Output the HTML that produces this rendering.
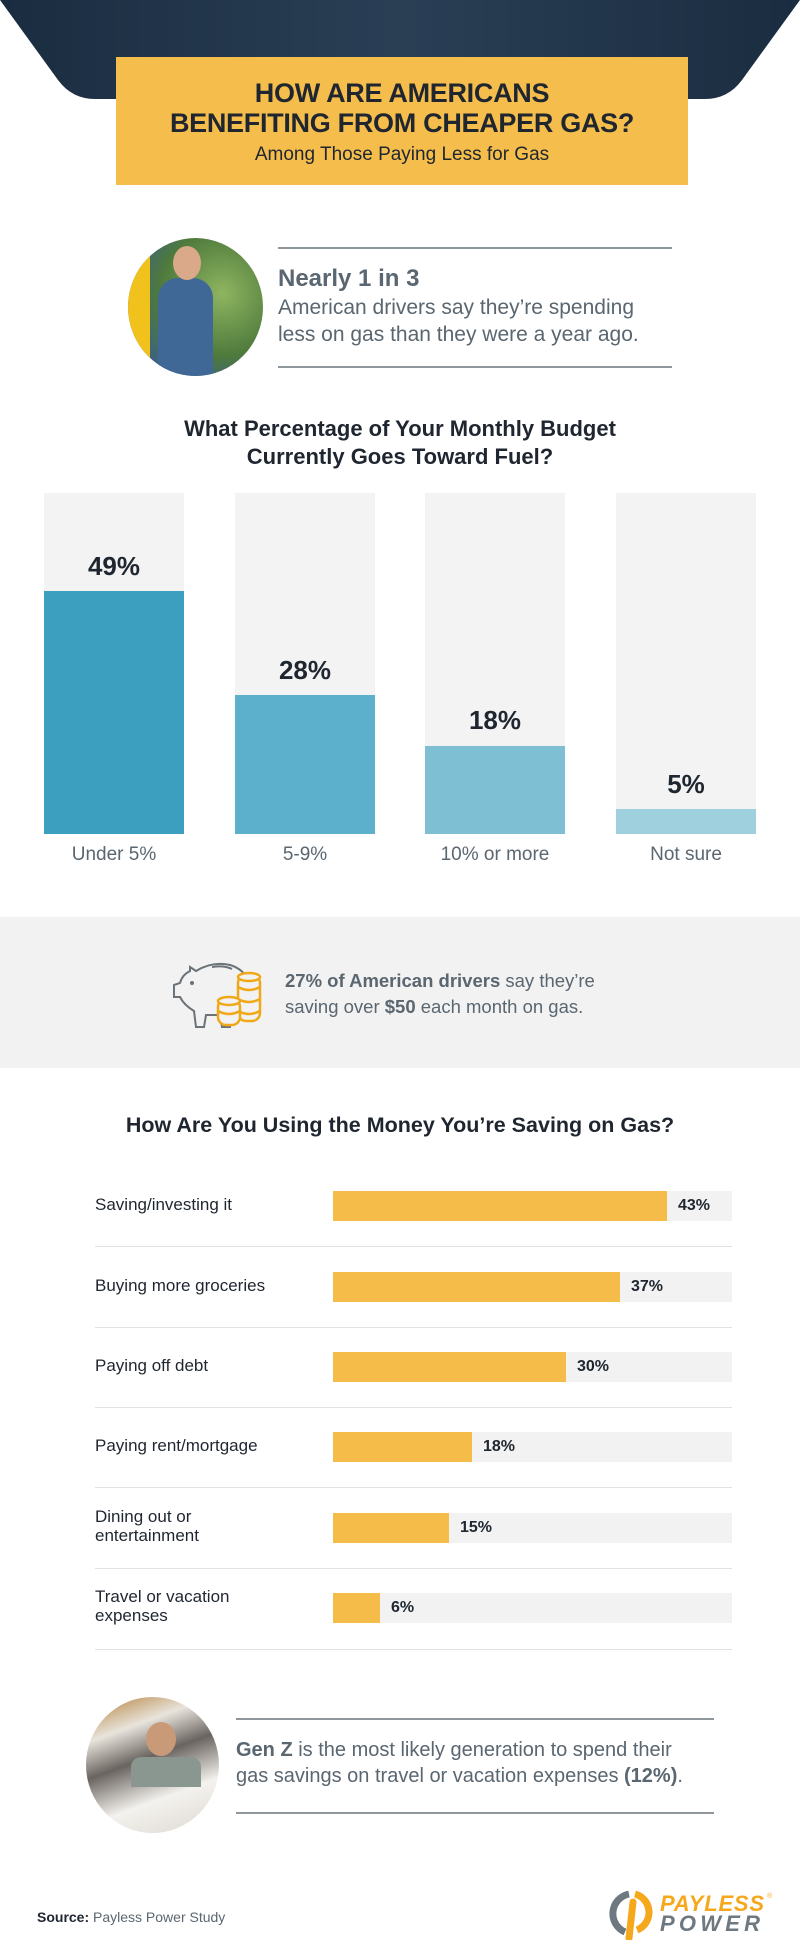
<!DOCTYPE html>
<html><head><meta charset="utf-8"><style>
*{margin:0;padding:0;box-sizing:border-box}
body{width:800px;height:1951px;background:#fff;position:relative;overflow:hidden;font-family:"Liberation Sans",sans-serif}
.a{position:absolute}
.c{text-align:center}
.dark{color:#1f2630}
.grey{color:#5a6670}
</style></head><body>
<svg class="a" style="left:0;top:0" width="800" height="100">
<defs><linearGradient id="g" x1="0" x2="1"><stop offset="0" stop-color="#1a2c40"/><stop offset="0.5" stop-color="#2a3f55"/><stop offset="1" stop-color="#1a2c40"/></linearGradient></defs>
<path d="M0 0 H800 L742 80 Q728 99 705 99 H95 Q72 99 58 80 Z" fill="url(#g)"/>
</svg>
<div class="a" style="left:116px;top:57px;width:572px;height:128px;background:#f5bd4b"></div>
<div class="a c dark" style="left:116px;top:78px;width:572px;font-weight:bold;font-size:27px;line-height:30px;letter-spacing:-0.3px">HOW ARE AMERICANS<br>BENEFITING FROM CHEAPER GAS?</div>
<div class="a c dark" style="left:116px;top:144px;width:572px;font-size:19px">Among Those Paying Less for Gas</div>

<div class="a" style="left:128px;top:238px;width:135px;height:138px;border-radius:50%;background:radial-gradient(circle at 70% 40%,#8fb560,#4e7a3c 50%,#3b5f8a 80%);overflow:hidden">
<div class="a" style="left:0;top:0;width:22px;height:138px;background:#f2c21c"></div>
<div class="a" style="left:30px;top:40px;width:55px;height:100px;background:#3f6896;border-radius:20px 20px 0 0"></div>
<div class="a" style="left:45px;top:8px;width:28px;height:34px;background:#d9a98a;border-radius:50%"></div>
</div>
<div class="a" style="left:278px;top:247px;width:394px;height:2px;background:#8e979c"></div>
<div class="a" style="left:278px;top:366px;width:394px;height:2px;background:#8e979c"></div>
<div class="a grey" style="left:278px;top:265px;font-weight:bold;font-size:24px">Nearly 1 in 3</div>
<div class="a grey" style="left:278px;top:294px;font-size:21px;line-height:27px">American drivers say they’re spending<br>less on gas than they were a year ago.</div>

<div class="a c dark" style="left:0;top:415px;width:800px;font-weight:bold;font-size:22px;line-height:28px">What Percentage of Your Monthly Budget<br>Currently Goes Toward Fuel?</div>

<div class="a" style="left:44px;top:493px;width:140px;height:341px;background:#f3f3f3"></div>
<div class="a" style="left:235px;top:493px;width:140px;height:341px;background:#f3f3f3"></div>
<div class="a" style="left:425px;top:493px;width:140px;height:341px;background:#f3f3f3"></div>
<div class="a" style="left:616px;top:493px;width:140px;height:341px;background:#f3f3f3"></div>
<div class="a" style="left:44px;top:591px;width:140px;height:243px;background:#3d9fbf"></div>
<div class="a" style="left:235px;top:695px;width:140px;height:139px;background:#5db0cb"></div>
<div class="a" style="left:425px;top:746px;width:140px;height:88px;background:#7fbfd3"></div>
<div class="a" style="left:616px;top:809px;width:140px;height:25px;background:#9ed0de"></div>
<div class="a c dark" style="left:44px;top:551px;width:140px;font-weight:bold;font-size:26px">49%</div>
<div class="a c dark" style="left:235px;top:655px;width:140px;font-weight:bold;font-size:26px">28%</div>
<div class="a c dark" style="left:425px;top:705px;width:140px;font-weight:bold;font-size:26px">18%</div>
<div class="a c dark" style="left:616px;top:769px;width:140px;font-weight:bold;font-size:26px">5%</div>
<div class="a c grey" style="left:34px;top:844px;width:160px;font-size:19px">Under 5%</div>
<div class="a c grey" style="left:225px;top:844px;width:160px;font-size:19px">5-9%</div>
<div class="a c grey" style="left:415px;top:844px;width:160px;font-size:19px">10% or more</div>
<div class="a c grey" style="left:606px;top:844px;width:160px;font-size:19px">Not sure</div>

<div class="a" style="left:0;top:917px;width:800px;height:151px;background:#f2f2f2"></div>
<svg class="a" style="left:172px;top:955px" width="96" height="75">
<path d="M18 12 L24 16 Q40 6 58 10 Q72 14 78 28 L78 40 Q72 52 60 56 L58 72 L50 72 L48 60 L34 60 L32 72 L24 72 L22 56 Q12 50 8 42 L2 42 L2 30 L8 28 Q10 20 18 16 Z" fill="none" stroke="#6b7378" stroke-width="2"/>
<circle cx="20" cy="28" r="2" fill="#6b7378"/>
<path d="M40 12 Q52 10 60 14" fill="none" stroke="#6b7378" stroke-width="2"/>
<g fill="#f2f2f2" stroke="#f0a818" stroke-width="2.5">
<rect x="66" y="20" width="22" height="46" rx="8"/>
<ellipse cx="77" cy="22" rx="11" ry="4"/>
<path d="M66 32 Q77 38 88 32 M66 44 Q77 50 88 44 M66 56 Q77 62 88 56" fill="none"/>
<rect x="46" y="44" width="22" height="26" rx="8"/>
<ellipse cx="57" cy="46" rx="11" ry="4"/>
<path d="M46 56 Q57 62 68 56" fill="none"/>
</g></svg>
<div class="a grey" style="left:285px;top:968px;font-size:18.5px;line-height:26px"><b>27% of American drivers</b> say they’re<br>saving over <b>$50</b> each month on gas.</div>

<div class="a c dark" style="left:0;top:1113px;width:800px;font-weight:bold;font-size:21.5px">How Are You Using the Money You’re Saving on Gas?</div>

<div class="a" style="left:333px;top:1191px;width:399px;height:30px;background:#f2f2f2"></div>
<div class="a" style="left:333px;top:1272px;width:399px;height:30px;background:#f2f2f2"></div>
<div class="a" style="left:333px;top:1352px;width:399px;height:30px;background:#f2f2f2"></div>
<div class="a" style="left:333px;top:1432px;width:399px;height:30px;background:#f2f2f2"></div>
<div class="a" style="left:333px;top:1513px;width:399px;height:30px;background:#f2f2f2"></div>
<div class="a" style="left:333px;top:1593px;width:399px;height:30px;background:#f2f2f2"></div>
<div class="a" style="left:333px;top:1191px;width:334px;height:30px;background:#f5bc4a"></div>
<div class="a" style="left:333px;top:1272px;width:287px;height:30px;background:#f5bc4a"></div>
<div class="a" style="left:333px;top:1352px;width:233px;height:30px;background:#f5bc4a"></div>
<div class="a" style="left:333px;top:1432px;width:139px;height:30px;background:#f5bc4a"></div>
<div class="a" style="left:333px;top:1513px;width:116px;height:30px;background:#f5bc4a"></div>
<div class="a" style="left:333px;top:1593px;width:47px;height:30px;background:#f5bc4a"></div>
<div class="a dark" style="left:678px;top:1197px;font-weight:bold;font-size:16px">43%</div>
<div class="a dark" style="left:631px;top:1278px;font-weight:bold;font-size:16px">37%</div>
<div class="a dark" style="left:577px;top:1358px;font-weight:bold;font-size:16px">30%</div>
<div class="a dark" style="left:483px;top:1438px;font-weight:bold;font-size:16px">18%</div>
<div class="a dark" style="left:460px;top:1519px;font-weight:bold;font-size:16px">15%</div>
<div class="a dark" style="left:391px;top:1599px;font-weight:bold;font-size:16px">6%</div>
<div class="a dark" style="left:95px;top:1195px;font-size:17px">Saving/investing it</div>
<div class="a dark" style="left:95px;top:1276px;font-size:17px">Buying more groceries</div>
<div class="a dark" style="left:95px;top:1356px;font-size:17px">Paying off debt</div>
<div class="a dark" style="left:95px;top:1436px;font-size:17px">Paying rent/mortgage</div>
<div class="a dark" style="left:95px;top:1507px;font-size:17px;line-height:19px">Dining out or<br>entertainment</div>
<div class="a dark" style="left:95px;top:1587px;font-size:17px;line-height:19px">Travel or vacation<br>expenses</div>
<div class="a" style="left:95px;top:1246px;width:637px;height:1px;background:#e2e2e2"></div>
<div class="a" style="left:95px;top:1327px;width:637px;height:1px;background:#e2e2e2"></div>
<div class="a" style="left:95px;top:1407px;width:637px;height:1px;background:#e2e2e2"></div>
<div class="a" style="left:95px;top:1487px;width:637px;height:1px;background:#e2e2e2"></div>
<div class="a" style="left:95px;top:1568px;width:637px;height:1px;background:#e2e2e2"></div>
<div class="a" style="left:95px;top:1649px;width:637px;height:1px;background:#e2e2e2"></div>

<div class="a" style="left:86px;top:1697px;width:133px;height:136px;border-radius:50%;background:linear-gradient(160deg,#b07a30 0%,#e8e4dc 25%,#6a6460 45%,#f4f2ee 70%,#dcd8d2 100%);overflow:hidden">
<div class="a" style="left:60px;top:25px;width:30px;height:34px;background:#c99a78;border-radius:50%"></div>
<div class="a" style="left:45px;top:60px;width:70px;height:30px;background:#8a9690;border-radius:10px 10px 0 0"></div>
</div>
<div class="a" style="left:236px;top:1718px;width:478px;height:2px;background:#8e979c"></div>
<div class="a" style="left:236px;top:1812px;width:478px;height:2px;background:#8e979c"></div>
<div class="a grey" style="left:236px;top:1737px;font-size:20px;line-height:26px"><b>Gen Z</b> is the most likely generation to spend their<br>gas savings on travel or vacation expenses <b>(12%)</b>.</div>

<div class="a" style="left:37px;top:1909px;font-size:14px;color:#5a6670"><b style="color:#1f2630">Source:</b> Payless Power Study</div>
<svg class="a" style="left:605px;top:1888px" width="170" height="52">
<path d="M20 44 A20 20 0 0 1 24 6" fill="none" stroke="#6d7880" stroke-width="7"/>
<path d="M30 6 A19 19 0 0 1 32 42" fill="none" stroke="#f5a81c" stroke-width="7"/>
<line x1="28" y1="14" x2="24" y2="50" stroke="#f5a81c" stroke-width="7" stroke-linecap="round"/>
<text x="55" y="23" font-family="Liberation Sans" font-weight="bold" font-style="italic" font-size="22" fill="#f5a81c" textLength="104">PAYLESS</text>
<text x="55" y="43" font-family="Liberation Sans" font-weight="bold" font-style="italic" font-size="22" fill="#6d7880" textLength="100">POWER</text>
<text x="162" y="10" font-size="7" fill="#f5a81c">®</text>
</svg>
</body></html>
